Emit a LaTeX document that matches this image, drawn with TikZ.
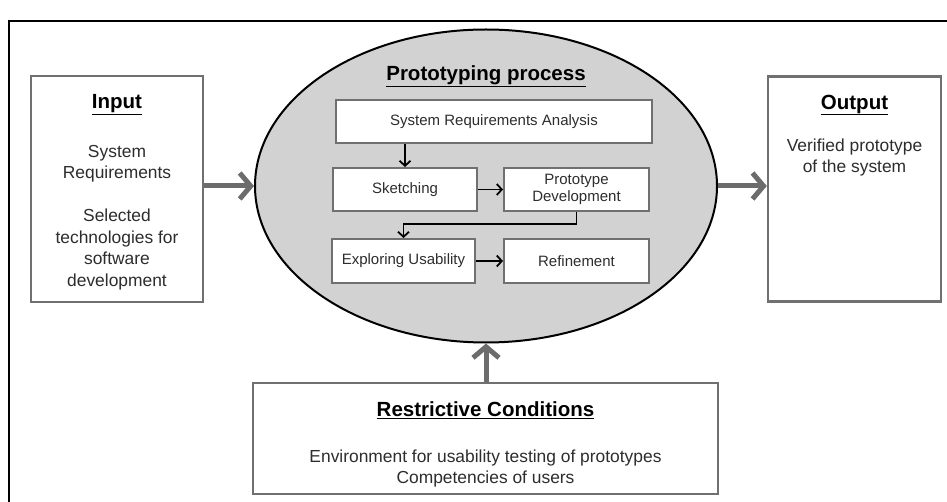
\documentclass[tikz,border=0pt]{standalone}
\usepackage{fontspec}
\setmainfont{Liberation Sans}
\usetikzlibrary{arrows.meta,shapes.geometric}
\definecolor{boxgrey}{RGB}{112,112,112}
\definecolor{fillgrey}{RGB}{210,210,210}
\definecolor{arrowgrey}{RGB}{108,108,108}
\definecolor{textgrey}{RGB}{45,45,45}
\tikzset{
  outerbox/.style={draw=boxgrey, line width=2.4pt, fill=white, inner sep=0pt},
  stepbox/.style={draw=boxgrey, line width=2pt, fill=white, inner sep=0pt,
    font=\fontsize{15}{17.5}\selectfont, text=textgrey, align=center},
  bodytext/.style={font=\fontsize{17.4}{21.5}\selectfont, text=textgrey, align=center, inner sep=0pt},
  titletext/.style={font=\fontsize{20.5}{24}\selectfont\bfseries, text=black, inner sep=0pt},
  bigarrow/.style={draw=arrowgrey, line width=5pt,
    -{Straight Barb[length=11pt,width=26pt,line width=5pt]}},
  smallarrow/.style={draw=black, line width=1.8pt,
    -{Straight Barb[length=5pt,width=11pt,line width=1.8pt]}}
}
\begin{document}
\begin{tikzpicture}[x=1pt,y=-1pt]
  \useasboundingbox (0,0) rectangle (947,502);
  % page frame (top and left edges)
  \draw[line width=2pt] (947,21) -- (9,21) -- (9,502);

  % input and output boxes
  \node[outerbox, minimum width=172pt, minimum height=226pt] (inbox) at (117,189) {};
  \node[titletext] (intitle) at (117,105) {\underline{Input}};
  \node[bodytext] (intext) at (117,217.5)
    {System\\Requirements\\[21.5pt]Selected\\technologies for\\software\\development};

  \node[outerbox, minimum width=173pt, minimum height=225pt] (outbox) at (854.5,189) {};
  \node[titletext] (outtitle) at (854.5,105) {\underline{Output}};
  \node[bodytext] (outtext) at (854.5,157.5) {Verified prototype\\of the system};

  % restrictive conditions
  \node[outerbox, minimum width=465pt, minimum height=111pt] (restr) at (485.5,438.5) {};
  \node[titletext] (restrtitle) at (485.5,410) {\underline{Restrictive Conditions}};
  \node[bodytext] (restrtext) at (485.5,468.5)
    {Environment for usability testing of prototypes\\Competencies of users};

  % prototyping process
  \node[ellipse, draw=black, line width=2pt, fill=fillgrey, inner sep=0pt,
    minimum width=462pt, minimum height=313pt] (proc) at (486,186) {};
  \node[titletext] (proctitle) at (486,76) {\underline{Prototyping process}};

  \node[stepbox, minimum width=316pt, minimum height=43pt] (sra) at (494,121.5) {System Requirements Analysis};
  \node[stepbox, minimum width=144pt, minimum height=43pt] (sk) at (405,189.5) {Sketching};
  \node[stepbox, minimum width=145pt, minimum height=43pt] (pd) at (576.5,189.5) {Prototype\\Development};
  \node[stepbox, minimum width=143pt, minimum height=44pt] (ex) at (403.5,261) {Exploring Usability};
  \node[stepbox, minimum width=145pt, minimum height=44pt] (rf) at (576.5,261) {Refinement};

  % flow between steps
  \draw[smallarrow] (sra.south -| sk.north) -- (sk.north);
  \draw[smallarrow] (sk.east) -- (pd.west);
  \draw[smallarrow] (pd.south) -- ++(0,12) -| (ex.north);
  \draw[smallarrow] (ex.east) -- (rf.west);

  % main flow
  \draw[bigarrow] (inbox.east |- proc.west) -- (proc.west);
  \draw[bigarrow] (proc.east) -- (outbox.west |- proc.east);
  \draw[bigarrow] (restr.north -| proc.south) -- (proc.south);
\end{tikzpicture}
\end{document}
